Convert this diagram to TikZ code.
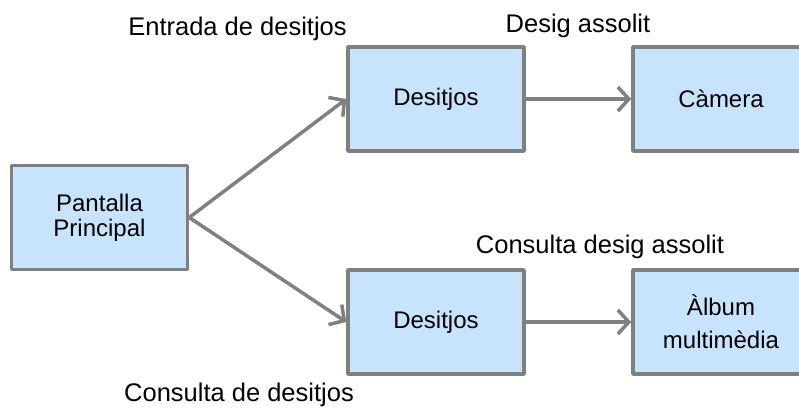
\documentclass[tikz,border=0pt]{standalone}
\usepackage{fontspec}
\setmainfont{Liberation Sans}
\usepackage[x11names, svgnames, rgb]{xcolor}
\usepackage{tikz}
\usetikzlibrary{arrows.meta,shapes}

\definecolor{boxfill}{RGB}{200,228,253}
\definecolor{boxline}{RGB}{128,128,128}

\begin{document}
\begin{tikzpicture}[>={Straight Barb[length=11bp,width=24bp]},line join=bevel,
  box/.style={draw=boxline, fill=boxfill, line width=3.5bp, minimum width=176bp,
    minimum height=104bp, inner sep=0pt, align=center,
    font=\fontsize{24bp}{25bp}\selectfont},
  lbl/.style={anchor=base, inner sep=0pt, font=\fontsize{25.5bp}{27bp}\selectfont},
  link/.style={->, draw=boxline, line width=3.5bp}]
  \useasboundingbox (0bp,0bp) rectangle (799bp,-414bp);
%%
  % Node: main
  \node[box] (main) at (99.5bp,-217.5bp) {Pantalla\\Principal};
  % Node: wish1
  \node[box] (wish1) at (436bp,-99bp) {Desitjos};
  % Node: camera
  \node[box] (camera) at (721bp,-99bp) {Càmera};
  % Node: wish2
  \node[box] (wish2) at (436bp,-322bp) {Desitjos};
  % Node: album
  \node[box] (album) at (721bp,-322bp) {Àlbum\\[8bp]multimèdia};
  % Labels
  \node[lbl] (lblentry) at (237.5bp,-35bp) {Entrada de desitjos};
  \node[lbl] (lbldone) at (578bp,-32bp) {Desig assolit};
  \node[lbl] (lblquerydone) at (600bp,-253bp) {Consulta desig assolit};
  \node[lbl] (lblquery) at (239bp,-401bp) {Consulta de desitjos};
  % Edge: main -> wish1
  \draw[link] (main.east) -- (wish1.west);
  % Edge: main -> wish2
  \draw[link] (main.east) -- (wish2.west);
  % Edge: wish1 -> camera
  \draw[link] (wish1) -- (camera);
  % Edge: wish2 -> album
  \draw[link] (wish2) -- (album);
%
\end{tikzpicture}
\end{document}
